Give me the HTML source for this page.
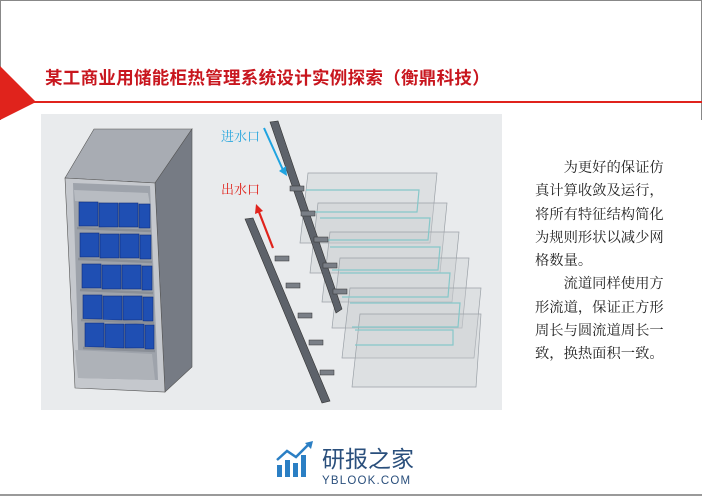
<!DOCTYPE html>
<html><head><meta charset="utf-8"><style>
body{margin:0;width:702px;height:496px;overflow:hidden;background:#fff;position:relative;font-family:"Liberation Sans","Noto Sans CJK SC",sans-serif}
.t{position:absolute;left:45px;top:65px;font-size:17.5px;font-weight:bold;color:#c8161e;letter-spacing:0.3px;white-space:nowrap}
.p{position:absolute;left:535px;top:157px;width:104px;font-family:"Liberation Serif","Noto Serif CJK SC",serif;font-size:14.3px;line-height:23.3px;color:#222}
.p div{white-space:nowrap}
</style></head><body>
<div style="position:absolute;left:0;top:0;width:702px;height:1px;background:#888"></div>
<div style="position:absolute;left:0;top:0;width:1px;height:120px;background:#888"></div>
<div style="position:absolute;left:701px;top:0;width:1px;height:120px;background:#888"></div>
<svg style="position:absolute;left:0;top:0" width="702" height="496">
<polygon points="0,66 36,102 0,120" fill="#e0231c"/>
<rect x="30" y="101" width="672" height="2" fill="#e0231c"/>
<rect x="41" y="114" width="461" height="296" fill="#e9ebed"/>
<!-- cabinet -->
<polygon points="65,178 94,129 192,129 155,183" fill="#a8acb3" stroke="#555" stroke-width="0.6"/>
<polygon points="155,183 192,129 192,367 165,392" fill="#767b84" stroke="#555" stroke-width="0.6"/>
<polygon points="65,178 155,183 165,392 75,388" fill="#c5c8cd" stroke="#555" stroke-width="0.6"/>
<polygon points="73,183 150,186 158,380 79,378" fill="#9ea3ab"/>
<polygon points="74,190 148,193 150,205 75,201" fill="#b8bcc2"/>
<polygon points="75,350 152,354 155,380 78,378" fill="#aeb2b8"/>
<g fill="#1f4fb3" stroke="#0e2e78" stroke-width="0.6">
<rect x="79" y="202" width="19" height="24"/><rect x="99" y="203" width="19" height="24"/><rect x="119" y="203" width="19" height="24"/><rect x="139" y="204" width="11" height="24"/>
<rect x="80" y="233" width="19" height="24"/><rect x="100" y="234" width="19" height="24"/><rect x="120" y="234" width="19" height="24"/><rect x="140" y="235" width="11" height="24"/>
<rect x="82" y="264" width="19" height="24"/><rect x="102" y="265" width="19" height="24"/><rect x="122" y="265" width="19" height="24"/><rect x="142" y="266" width="10" height="24"/>
<rect x="83" y="295" width="19" height="24"/><rect x="103" y="296" width="19" height="24"/><rect x="123" y="296" width="19" height="24"/><rect x="143" y="297" width="10" height="24"/>
<rect x="85" y="323" width="19" height="24"/><rect x="105" y="324" width="19" height="24"/><rect x="125" y="324" width="19" height="24"/><rect x="145" y="325" width="9" height="24"/>
</g>
<g stroke="#8a8f97" stroke-width="2.5">
<line x1="77" y1="228" x2="151" y2="231"/><line x1="78" y1="259" x2="152" y2="262"/><line x1="80" y1="290" x2="153" y2="293"/><line x1="81" y1="320" x2="154" y2="323"/><line x1="83" y1="348" x2="155" y2="351"/>
</g>
<!-- panels -->
<g fill="rgba(200,203,207,0.35)" stroke="#9aa0a6" stroke-width="0.7">
<polygon points="308,173 437,173 430,243 300,243"/>
<polygon points="318,203 447,203 440,273 310,273"/>
<polygon points="330,232 459,232 452,302 322,302"/>
<polygon points="340,258 469,258 462,328 332,328"/>
<polygon points="350,288 481,288 474,358 342,358"/>
<polygon points="360,314 481,314 476,387 352,387"/>
</g>
<g fill="none" stroke="#86c7c9" stroke-width="1.2">
<polyline points="306,190 419,190 417,212 310,212"/>
<polyline points="320,218 430,218 428,240 322,240"/>
<polyline points="330,247 440,247 438,270 332,270"/>
<polyline points="340,273 450,273 448,297 342,297"/>
<polyline points="350,303 460,303 458,327 352,327"/>
<polyline points="355,330 453,330 453,345 355,345"/>
</g>
<!-- inlet bar -->
<polygon points="270,122 278,121 342,309 336,313" fill="#5d626a" stroke="#333" stroke-width="0.6"/>
<!-- outlet bar -->
<polygon points="245,219 253,218 330,401 322,403" fill="#5d626a" stroke="#333" stroke-width="0.6"/>
<g fill="#7a7f87" stroke="#333" stroke-width="0.5">
<rect x="290" y="186" width="14" height="5"/><rect x="301" y="211" width="14" height="5"/><rect x="314" y="237" width="14" height="5"/><rect x="323" y="263" width="14" height="5"/><rect x="333" y="289" width="14" height="5"/>
<rect x="275" y="256" width="14" height="5"/><rect x="286" y="283" width="14" height="5"/><rect x="298" y="313" width="14" height="5"/><rect x="309" y="340" width="14" height="5"/><rect x="320" y="370" width="14" height="5"/>
</g>
<!-- arrows -->
<line x1="264" y1="128" x2="283" y2="170" stroke="#1fa3e0" stroke-width="2"/>
<polygon points="279,171 287,176 286,166" fill="#1fa3e0"/>
<line x1="273" y1="248" x2="259" y2="212" stroke="#e0231c" stroke-width="2.2"/>
<polygon points="255,214 256,204 263,211" fill="#e0231c"/>
<text x="221" y="141" font-size="13" fill="#2aa7de" font-family="Liberation Serif,Noto Serif CJK SC,serif">进水口</text>
<text x="221" y="194" font-size="13" fill="#e0231c" font-family="Liberation Serif,Noto Serif CJK SC,serif">出水口</text>
<!-- logo -->
<g fill="#2b7fc4">
<rect x="277" y="465" width="5" height="12"/><rect x="285" y="460" width="5" height="17"/><rect x="293" y="463" width="5" height="14"/><rect x="301" y="455" width="5" height="22"/>
</g>
<polyline points="277,460 287,451 296,457 309,444" fill="none" stroke="#2b7fc4" stroke-width="2.5"/>
<polygon points="305,443 313,441 311,449" fill="#2b7fc4"/>
<text x="322" y="467" font-size="23" fill="#2a4f7c" font-family="Liberation Sans,Noto Sans CJK SC,sans-serif">研报之家</text>
<text x="322" y="484" font-size="11.5" fill="#2a4f7c" letter-spacing="1.2" font-family="Liberation Sans,sans-serif">YBLOOK.COM</text>
<rect x="0" y="494" width="702" height="2" fill="#9a9a9a"/>
</svg>
<div class="t">某工商业用储能柜热管理系统设计实例探索（衡鼎科技）</div>
<div class="p">
<div>&emsp;&emsp;为更好的保证仿</div><div>真计算收敛及运行，</div><div>将所有特征结构简化</div><div>为规则形状以减少网</div><div>格数量。</div>
<div>&emsp;&emsp;流道同样使用方</div><div>形流道，保证正方形</div><div>周长与圆流道周长一</div><div>致，换热面积一致。</div>
</div>
</body></html>
